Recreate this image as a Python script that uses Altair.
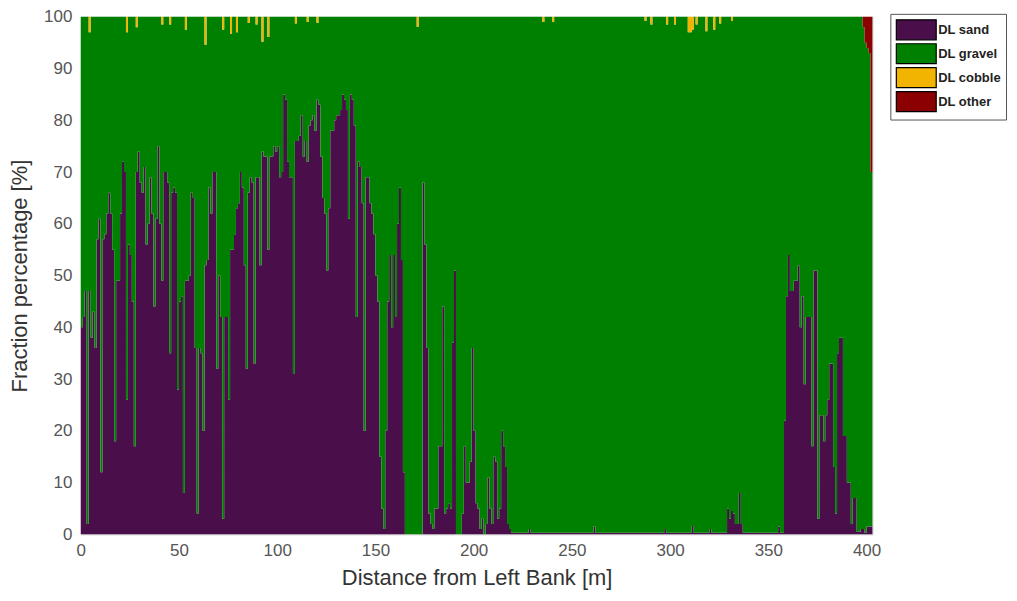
import altair as alt
import pandas as pd

# Sand fraction [%] at every metre from 0 to 402 m
sand = [
    40, 42, 47, 2, 47, 38, 43, 36, 57, 61,
    12, 57, 58, 62, 66, 62, 55, 18, 49, 49,
    62, 72, 70, 26, 56, 54, 45, 17, 70, 74,
    68, 66, 71, 56, 60, 69, 62, 44, 61, 75,
    60, 49, 70, 70, 68, 35, 66, 67, 66, 28,
    45, 46, 8, 49, 49, 50, 66, 65, 36, 4,
    36, 35, 20, 52, 53, 67, 62, 70, 70, 32,
    50, 42, 3, 42, 42, 26, 55, 55, 58, 63,
    64, 70, 67, 52, 32, 66, 69, 68, 33, 69,
    69, 52, 74, 73, 73, 55, 73, 73, 75, 74,
    75, 69, 70, 85, 84, 72, 69, 69, 31, 76,
    76, 77, 81, 73, 76, 72, 79, 80, 81, 78,
    84, 83, 73, 65, 62, 51, 63, 78, 78, 80,
    81, 81, 82, 85, 84, 82, 61, 85, 84, 79,
    42, 72, 71, 64, 20, 69, 69, 64, 62, 58,
    50, 45, 15, 5, 1, 20, 45, 54, 40, 54,
    42, 60, 67, 53, 12, 0, 0, 0, 0, 0,
    0, 0, 0, 0, 68, 56, 36, 4, 2, 1,
    5, 5, 17, 17, 44, 4, 5, 6, 5, 37,
    51, 0, 0, 0, 4, 17, 10, 10, 14, 36,
    20, 6, 5, 1, 3, 0, 2, 11, 5, 2,
    15, 14, 3, 5, 20, 17, 13, 2, 1, 0.3,
    0.3, 0.3, 0.3, 0.3, 0.3, 0.3, 0.3, 0.3, 1, 0.3,
    0.3, 0.3, 0.3, 0.3, 0.3, 0.3, 0.3, 0.3, 0.3, 0.3,
    0.3, 0.3, 0.3, 0.3, 0.3, 0.3, 0.3, 0.3, 0.3, 0.3,
    0.3, 0.3, 0.3, 0.3, 0.3, 0.3, 0.3, 0.3, 0.3, 0.3,
    0.3, 1.5, 0.3, 0.3, 0.3, 0.3, 0.3, 0.3, 0.3, 0.3,
    0.3, 0.3, 0.3, 0.3, 0.3, 0.3, 0.3, 0.3, 0.3, 0.3,
    0.3, 0.3, 0.3, 0.3, 0.3, 0.3, 0.3, 0.3, 0.3, 0.3,
    0.3, 0.3, 0.3, 0.3, 0.3, 0.3, 0.3, 1, 0.3, 0.3,
    0.3, 0.3, 0.3, 0.3, 0.3, 0.3, 0.3, 0.3, 0.3, 0.3,
    0.3, 1.6, 0.3, 0.3, 0.3, 0.3, 0.3, 0.3, 0.3, 0.3,
    1, 0.3, 0.3, 0.3, 0.3, 0.3, 0.3, 0.3, 0.3, 5,
    3, 4.5, 4, 2, 2, 8, 2, 0.3, 0.3, 0.3,
    0.3, 0.3, 0.3, 0.3, 0.3, 0.3, 0.3, 0.3, 0.3, 0.3,
    0.3, 0.3, 0.3, 0.3, 0.3, 1.5, 0.3, 0.3, 22, 46,
    54, 47, 47, 49, 49, 52, 40, 46, 29, 42,
    42, 42, 17, 51, 51, 3, 23, 23, 18, 23,
    26, 33, 33, 13, 4, 35, 38, 38, 19, 19,
    10, 10, 2, 7, 7, 0.5, 0.5, 1, 1, 0.3,
    1.5, 1.5, 1.5,
]

# Cobble fraction [%]: positions [m] and values
cobble_at = [4, 23, 28, 41, 45, 53, 63, 72, 76, 79, 85, 89, 92, 95,
             109, 115, 120, 171, 235, 240, 287, 290, 298, 302,
             309, 310, 311, 313, 318, 322, 325, 331]
cobble_val = [3, 3, 2, 1.5, 1.5, 2.5, 5.4, 2.5, 3.3, 3, 1.2, 1.5, 4.8, 3.9,
              1.3, 1, 1.2, 1.9, 1, 1, 0.8, 1.5, 1.5, 1.5,
              3, 3, 2.5, 1.5, 2.8, 2.5, 1.3, 0.8]

# Other fraction [%]
other_at = [398, 399, 400, 401, 402]
other_val = [2, 5, 6, 7, 30]

names = ["DL sand", "DL gravel", "DL cobble", "DL other"]
colors = ["#4a0e4a", "#008000", "#f2b400", "#8b0000"]

cob = dict(zip(cobble_at, cobble_val))
oth = dict(zip(other_at, other_val))

rows = []
n = len(sand)
for i in range(n + 1):
    j = min(i, n - 1)
    s = sand[j]
    c = cob.get(j, 0)
    o = oth.get(j, 0)
    g = 100 - s - c - o
    for k, (nm, v) in enumerate(zip(names, [s, g, c, o])):
        rows.append({"x": i, "v": v, "fraction": nm, "o": k})
df = pd.DataFrame(rows)

chart = alt.Chart(df).mark_area(interpolate="step-after").encode(
    x=alt.X("x:Q",
            scale=alt.Scale(domain=[0, 403], nice=False, zero=False),
            axis=alt.Axis(values=list(range(0, 401, 50)), title="Distance from Left Bank [m]",
                          ticks=False, domain=False, grid=False, labelPadding=8,
                          titlePadding=9, labelFlush=False)),
    y=alt.Y("v:Q", stack="zero",
            scale=alt.Scale(domain=[0, 100], nice=False),
            axis=alt.Axis(values=list(range(0, 101, 10)), title="Fraction percentage [%]",
                          ticks=False, domain=False, grid=False, labelPadding=9,
                          titlePadding=12)),
    color=alt.Color("fraction:N",
                    scale=alt.Scale(domain=names, range=colors),
                    sort=names,
                    legend=alt.Legend(orient="none", legendX=812, legendY=-3, title=None,
                                      symbolType="M-2,-1L2,-1L2,1L-2,1Z", symbolSize=400,
                                      symbolStrokeColor="black", symbolStrokeWidth=1.2,
                                      symbolOpacity=1, symbolOffset=10,
                                      labelFont="Liberation Sans", labelFontSize=13,
                                      labelFontWeight="bold", labelColor="#222",
                                      labelOffset=11, rowPadding=-3, padding=5,
                                      strokeColor="#555", fillColor="white")),
    order=alt.Order("o:Q"),
).properties(
    width=794, height=519,
    autosize=alt.AutoSizeParams(type="none"),
    padding={"left": 73, "top": 8, "right": 137, "bottom": 58},
).configure_view(
    stroke="#c8c8c8", strokeWidth=1
).configure_axis(
    labelFont="Liberation Sans", labelFontSize=17, labelColor="#555",
    titleFont="Liberation Sans", titleFontSize=22, titleFontWeight="normal", titleColor="#333"
)

chart.save("out.html", embed_options={"renderer": "svg", "actions": False})
